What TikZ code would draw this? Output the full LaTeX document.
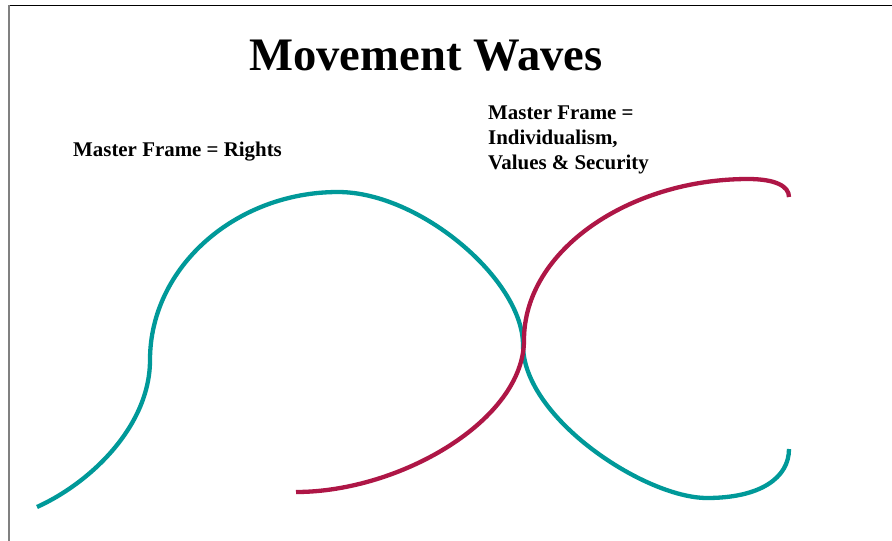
\documentclass[tikz,border=0pt]{standalone}
\usepackage{fontspec}
\setmainfont{Liberation Serif}
\definecolor{wteal}{RGB}{0,153,153}
\definecolor{wred}{RGB}{174,22,70}
\begin{document}
\begin{tikzpicture}[x=1pt,y=-1pt,
  wave/.style={line width=4.3pt},
  lbl/.style={anchor=base west,inner sep=0pt,font=\bfseries\fontsize{20.9}{25}\selectfont}]
\useasboundingbox (0,0) rectangle (892,541);
\fill[white] (0,0) rectangle (892,541);
\draw[black,line width=1pt] (8.5,5) -- (892,5);
\draw[gray,line width=1.2pt] (9,5) -- (9,541);
\node[anchor=base,inner sep=0pt,font=\bfseries\fontsize{46.6}{55}\selectfont] (title) at (426,70) {Movement Waves};
\node[lbl] (rights) at (73,156) {Master Frame = Rights};
\node[lbl] (ind1) at (488,119) {Master Frame =};
\node[lbl] (ind2) at (488,144) {Individualism,};
\node[lbl] (ind3) at (488,169) {Values \& Security};
% teal wave
\draw[wave,wteal] (37,507) .. controls (92,482) and (150,425) .. (150,360)
  .. controls (150,267) and (236,192) .. (338,192)
  .. controls (420,192) and (523,280) .. (523,345)
  .. controls (523,418) and (645,498) .. (707,498)
  .. controls (760,498) and (789,478) .. (789,449);
% crimson wave
\draw[wave,wred] (296,492) .. controls (400,492) and (524,420) .. (524,340)
  .. controls (524,250) and (630,179) .. (748,179)
  .. controls (775,179) and (789,186) .. (789,197);
\end{tikzpicture}
\end{document}
